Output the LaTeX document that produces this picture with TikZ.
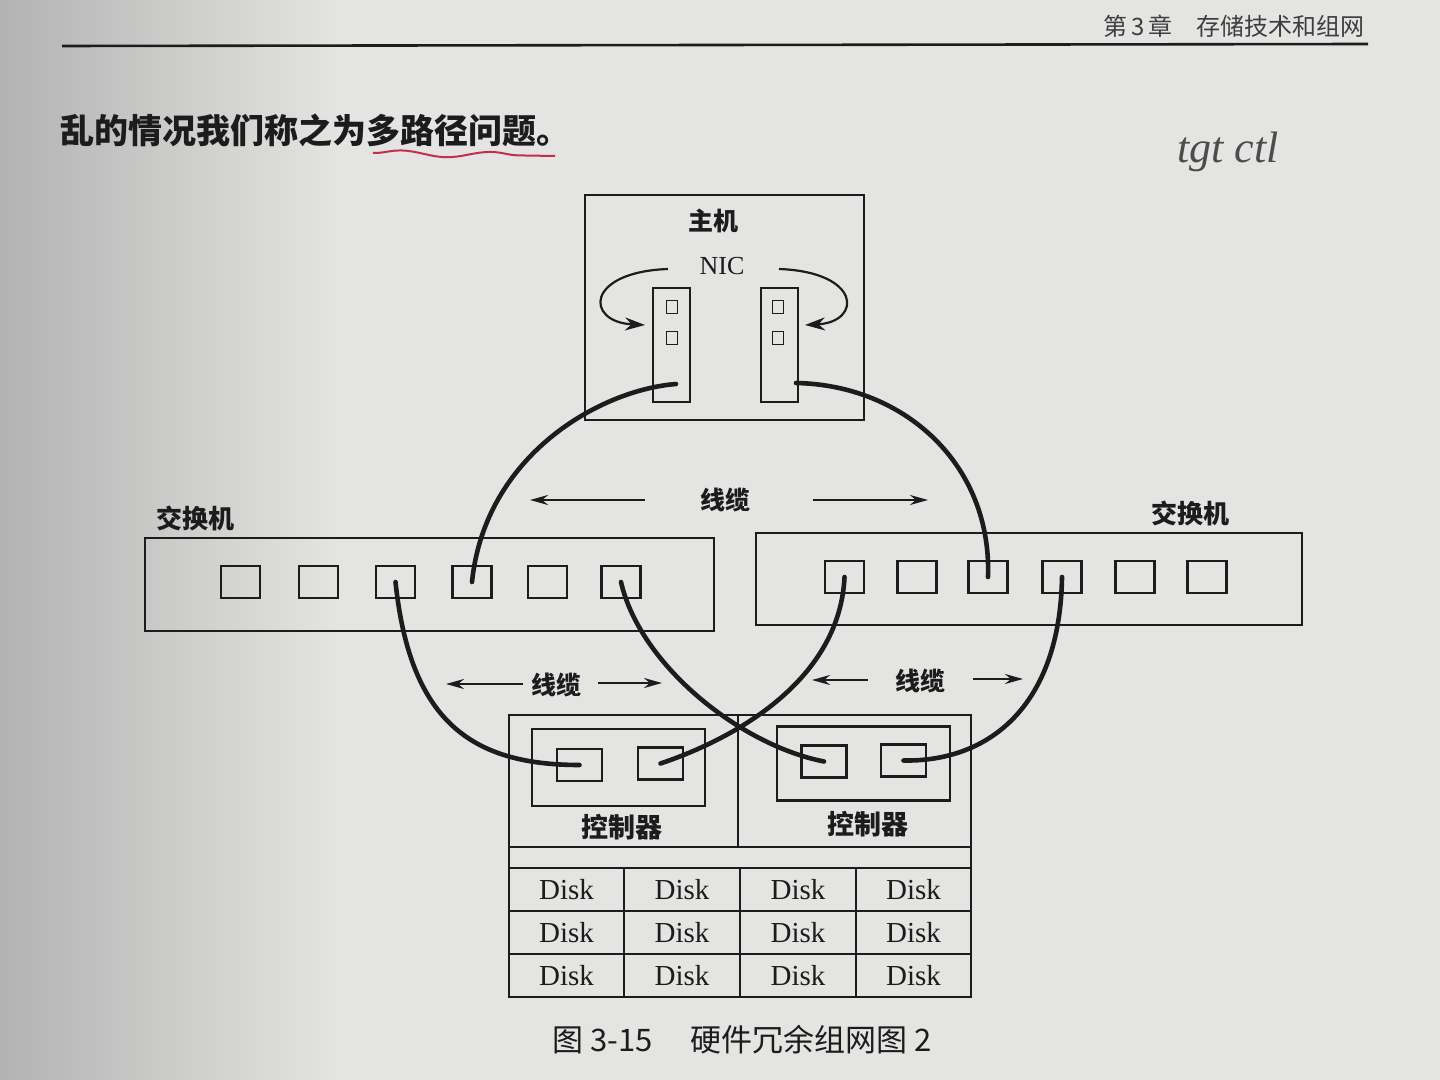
\documentclass[tikz,border=0pt]{standalone}
\usepackage{fontspec}
\setmainfont{Liberation Serif}
\newfontfamily\cjk{Noto Sans CJK SC}
\usetikzlibrary{arrows.meta,decorations.pathmorphing}
\definecolor{pagebg}{HTML}{E4E4E2}
\definecolor{ink}{HTML}{1C1C1C}
\definecolor{penred}{HTML}{C0304A}
\begin{document}
\begin{tikzpicture}[x=0.5pt,y=-0.5pt,
  box/.style={draw=ink, line width=1.1pt, inner sep=0pt},
  port/.style={box, minimum width=19.5pt, minimum height=16pt},
  cport/.style={box, minimum width=22.5pt, minimum height=16pt},
  nicsq/.style={box, line width=0.9pt, minimum width=5.5pt, minimum height=6.5pt},
  cable/.style={draw=ink, line width=2.3pt, line cap=round},
  flow/.style={draw=ink, line width=1.1pt, -{Stealth[length=9pt,width=5pt]}},
  hostflow/.style={draw=ink, line width=1.1pt, -{Stealth[length=10pt,width=6.5pt]}},
  lab/.style={text=ink, inner sep=0pt, font=\cjk\bfseries\fontsize{12.5pt}{14pt}\selectfont},
  biglab/.style={lab, font=\cjk\bfseries\fontsize{13.5pt}{16pt}\selectfont},
  disk/.style={box, minimum width=57.75pt, minimum height=21.5pt, text=ink, font=\fontsize{14.5pt}{16pt}\selectfont},
]
\useasboundingbox (0,0) rectangle (1440,1080);
\fill[pagebg] (0,0) rectangle (1440,1080);
\shade[left color=gray!60, right color=pagebg] (0,0) rectangle (340,1080);

% page header and text
\node[text=ink!85, inner sep=0pt, font=\cjk\fontsize{12pt}{14pt}\selectfont, anchor=east] (hdr) at (1365,26) {第\,3\,章\quad 存储技术和组网};
\draw[ink, line width=1.3pt] (62,46) -- (1368,44);
\node[text=ink, inner sep=0pt, anchor=west, font=\cjk\bfseries\fontsize{17pt}{20pt}\selectfont] (body) at (60,130) {乱的情况我们称之为多路径问题。};
\draw[penred, line width=1pt, decorate, decoration={snake, amplitude=1.5pt, segment length=45pt}] (373,153) -- (555,156);
\node[text=gray!60!black, inner sep=0pt, font=\itshape\fontsize{22pt}{24pt}\selectfont] (hand) at (1228,152) {tgt ctl};

% host
\node[box, minimum width=139.5pt, minimum height=112.5pt] (host) at (724.5,307.5) {};
\node[lab] (hostlab) at (713,221) {主机};
\node[text=ink, inner sep=0pt, font=\fontsize{13pt}{15pt}\selectfont] (niclab) at (722,266) {NIC};
\node[box, minimum width=18.5pt, minimum height=57pt] (nicL) at (671.5,345) {};
\node[box, minimum width=18.5pt, minimum height=57pt] (nicR) at (779.5,345) {};
\node[nicsq] (nicL1) at (672,307) {};
\node[nicsq] (nicL2) at (672,338) {};
\node[nicsq] (nicR1) at (778,307) {};
\node[nicsq] (nicR2) at (778,338) {};
\coordinate (aLs) at (668,269); \coordinate (aLe) at (645,325);
\coordinate (aRs) at (779,269); \coordinate (aRe) at (805,325);
\draw[hostflow] (aLs) .. controls (585,272) and (585,322) .. (aLe);
\draw[hostflow] (aRs) .. controls (862,272) and (862,322) .. (aRe);
\coordinate (nicLend) at (676,384);
\coordinate (nicRend) at (796,383);

% left switch
\node[lab, font=\cjk\bfseries\fontsize{13pt}{15pt}\selectfont] (swLlab) at (195,518) {交换机};
\node[box, minimum width=284.5pt, minimum height=46.5pt] (swL) at (429.5,584.5) {};
\foreach \i/\x in {1/240.5,2/318.5,3/395.5,4/472,5/547.5,6/621}
  \node[port] (L\i) at (\x,582) {};
% right switch
\node[lab, font=\cjk\bfseries\fontsize{13pt}{15pt}\selectfont] (swRlab) at (1190,513) {交换机};
\node[box, minimum width=273pt, minimum height=46pt] (swR) at (1029,579) {};
\foreach \i/\x in {1/844.5,2/917,3/988,4/1062,5/1135,6/1207}
  \node[port] (R\i) at (\x,577) {};

% storage
\node[box, minimum width=231pt, minimum height=141pt] (stor) at (740,856) {};
\draw[ink, line width=1.1pt] (509,847) -- (971,847);
\draw[ink, line width=1.1pt] (738,715) -- (738,847);
\node[box, minimum width=86.5pt, minimum height=38.5pt] (ctlL) at (618.5,767.5) {};
\node[box, minimum width=86.5pt, minimum height=37pt] (ctlR) at (863.5,763.5) {};
\node[cport] (C1a) at (579.5,765) {};
\node[cport] (C1b) at (660.5,763.5) {};
\node[cport] (C2a) at (824,761.5) {};
\node[cport] (C2b) at (903.5,760.5) {};
\node[biglab] (ctlLlab) at (622,827) {控制器};
\node[biglab] (ctlRlab) at (868,824) {控制器};
\foreach \c/\x in {1/566.5,2/682,3/798,4/913.5}
  \foreach \r/\y in {1/889.5,2/932.5,3/975.5}
    \node[disk] (d\c\r) at (\x,\y) {Disk};

% cables
\draw[cable] (nicLend) .. controls (600,390) and (485,455) .. (L4.center);
\draw[cable] (nicRend) .. controls (905,385) and (992,465) .. (R3.center);
\draw[cable] (L3.center) .. controls (410,720) and (470,765) .. (C1a.center);
\draw[cable] (L6.center) .. controls (640,665) and (740,745) .. (C2a.center);
\draw[cable] (R1.center) .. controls (840,675) and (745,735) .. (C1b.center);
\draw[cable] (R4.center) .. controls (1060,705) and (990,762) .. (C2b.center);

% cable labels
\node[lab] (cab1) at (725,500) {线缆};
\coordinate (c1a) at (645,500); \coordinate (c1b) at (530,500);
\coordinate (c1c) at (813,500); \coordinate (c1d) at (928,500);
\draw[flow] (c1a) -- (c1b);
\draw[flow] (c1c) -- (c1d);
\node[lab] (cab2) at (556,685) {线缆};
\coordinate (c2a) at (523,684); \coordinate (c2b) at (446,684);
\coordinate (c2c) at (598,683); \coordinate (c2d) at (662,683);
\draw[flow] (c2a) -- (c2b);
\draw[flow] (c2c) -- (c2d);
\node[lab] (cab3) at (920,681) {线缆};
\coordinate (c3a) at (868,680); \coordinate (c3b) at (812,680);
\coordinate (c3c) at (973,679); \coordinate (c3d) at (1023,679);
\draw[flow] (c3a) -- (c3b);
\draw[flow] (c3c) -- (c3d);

% caption
\node[text=ink, inner sep=0pt, font=\cjk\fontsize{15.5pt}{18pt}\selectfont] (cap) at (742,1040) {图 3-15\hspace{1.2em}硬件冗余组网图 2};
\end{tikzpicture}
\end{document}
